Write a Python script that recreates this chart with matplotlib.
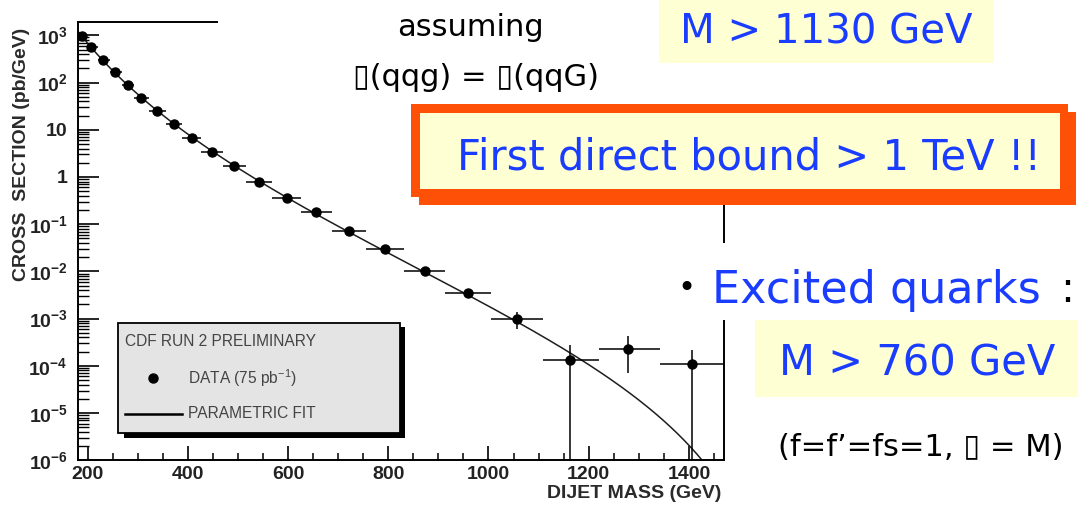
import numpy as np
import matplotlib
matplotlib.use("Agg")
import matplotlib.pyplot as plt
from matplotlib.patches import Rectangle
from matplotlib.lines import Line2D
from matplotlib.ticker import FixedLocator, FixedFormatter, MultipleLocator, LogLocator, NullFormatter

# ---------------------------------------------------------------- data
# dijet mass bins (GeV): centre and edges
mass = np.array([189, 207, 230, 254, 280, 306, 338, 372, 408, 449, 493,
                 543, 598, 656, 722, 793, 873, 960, 1057, 1162, 1279, 1407])
bin_lo = np.array([180, 198, 221, 244, 269, 293, 322, 356, 389, 427, 471,
                   517, 569, 626, 688, 756, 832, 914, 1006, 1109, 1220, 1342])
bin_hi = np.array([198, 221, 244, 269, 293, 322, 356, 389, 427, 471, 517,
                   569, 626, 688, 756, 832, 914, 1006, 1109, 1220, 1342, 1476])
# measured cross section (pb/GeV)
xsec = np.array([970, 577, 302, 166, 89.7, 46.1, 25.0, 13.3, 6.61, 3.41, 1.70,
                 0.796, 0.366, 0.177, 0.0711, 0.0301, 0.0101, 0.00351,
                 9.9e-4, 1.31e-4, 2.31e-4, 1.10e-4])
xsec_err_hi = np.array([12, 8, 5, 3, 1.8, 1.0, 0.6, 0.35, 0.2, 0.11, 0.06,
                        0.03, 0.016, 0.009, 0.004, 0.0022, 0.0009, 0.0004,
                        4.0e-4, 1.4e-4, 1.9e-4, 1.03e-4])
xsec_err_lo = np.array([12, 8, 5, 3, 1.8, 1.0, 0.6, 0.35, 0.2, 0.11, 0.06,
                        0.03, 0.016, 0.009, 0.004, 0.0022, 0.0009, 0.0004,
                        4.0e-4, 1.31e-4, 1.62e-4, 1.10e-4])
# points read along the tail of the parametric fit
tail_mass = np.array([1184, 1250, 1317, 1384, 1410])
tail_xsec = np.array([1.31e-4, 4.6e-5, 1.36e-5, 3.4e-6, 1.5e-6])

x_ticks = [200, 400, 600, 800, 1000, 1200, 1400]
y_ticks = [1e3, 1e2, 1e1, 1, 1e-1, 1e-2, 1e-3, 1e-4, 1e-5, 1e-6]
y_ticklabels = [r"$\mathbf{10^{3}}$", r"$\mathbf{10^{2}}$", "10", "1",
                r"$\mathbf{10^{-1}}$", r"$\mathbf{10^{-2}}$", r"$\mathbf{10^{-3}}$",
                r"$\mathbf{10^{-4}}$", r"$\mathbf{10^{-5}}$", r"$\mathbf{10^{-6}}$"]

# ---------------------------------------------------------------- style
plt.rcParams["font.family"] = ["Liberation Sans", "DejaVu Sans"]
plt.rcParams["mathtext.fontset"] = "custom"
plt.rcParams["mathtext.rm"] = "Liberation Sans"
plt.rcParams["mathtext.bf"] = "Liberation Sans:bold"
plt.rcParams["mathtext.it"] = "Liberation Sans:italic"

W, H = 1078, 508
fig = plt.figure(figsize=(W / 100, H / 100), dpi=100)
fig.patch.set_facecolor("white")

L, R, T, B = 77.5, 724.0, 22.5, 460.3
ax = fig.add_axes([L / W, (H - B) / H, (R - L) / W, (B - T) / H])
ax.set_yscale("log")
ax.set_xlim(180, 1470)
ax.set_ylim(1e-6, 1.87e3)


# parametric fit in x = m / m0:
# ln s = a + b ln(1-x) - c ln x - d ln^2 x, with the end-point scale m0 scanned
def design(m, m0):
    x = m / m0
    return np.column_stack([np.ones_like(x), np.log(1 - x), -np.log(x), -np.log(x) ** 2])


fit_m = np.concatenate([mass[:19], tail_mass])
fit_s = np.concatenate([xsec[:19], tail_xsec])
fit_w = np.concatenate([np.ones(19), np.full(len(tail_mass), 4.0)])
best = None
for m0 in np.arange(1420, 2400, 5.0):
    Aw = design(fit_m, m0) * fit_w[:, None]
    c, *_ = np.linalg.lstsq(Aw, np.log(fit_s) * fit_w, rcond=None)
    rss = np.sum((Aw @ c - np.log(fit_s) * fit_w) ** 2)
    if best is None or rss < best[0]:
        best = (rss, m0, c)
_, m0_fit, coef = best
mm = np.linspace(180, min(1465, m0_fit - 1), 500)
curve = np.exp(design(mm, m0_fit) @ coef)
ax.plot(mm, curve, color="#1e1e1e", lw=1.1, zorder=2)

# data with bin widths and errors
lower = xsec - xsec_err_lo
lower = np.where(lower > 0, lower, 1e-9)
ax.errorbar(mass, xsec, xerr=[mass - bin_lo, bin_hi - mass],
            yerr=[xsec - lower, xsec_err_hi], fmt="o", color="black",
            ms=6.5, elinewidth=1.1, capsize=0, zorder=3)

# axes frame and ticks
for sp in ax.spines.values():
    sp.set_linewidth(1.4)
ax.xaxis.set_major_locator(FixedLocator(x_ticks))
ax.xaxis.set_minor_locator(MultipleLocator(50))
ax.yaxis.set_major_locator(FixedLocator(y_ticks))
ax.yaxis.set_major_formatter(FixedFormatter(y_ticklabels))
ax.yaxis.set_minor_locator(LogLocator(base=10, subs=np.arange(2, 10), numticks=20))
ax.yaxis.set_minor_formatter(NullFormatter())
ax.tick_params(axis="x", which="major", direction="in", length=10, width=1.2,
               labelsize=14, pad=4, top=False)
ax.tick_params(axis="x", which="minor", direction="in", length=5, width=1.1, top=False)
ax.tick_params(axis="y", which="major", direction="in", length=15, width=1.2,
               labelsize=14, pad=7, right=False)
ax.tick_params(axis="y", which="minor", direction="in", length=8, width=1.0, right=False)
for lab in ax.get_xticklabels():
    lab.set_fontweight("bold")
    lab.set_color("#222222")
for lab in ax.get_yticklabels():
    lab.set_fontweight("bold")
    lab.set_color("#222222")

# ---------------------------------------------------------------- overlay in pixel units
ov = fig.add_axes([0, 0, 1, 1], zorder=10)
ov.set_xlim(0, W)
ov.set_ylim(H, 0)
ov.axis("off")
ov.patch.set_alpha(0)


def box(x0, y0, x1, y1, **kw):
    ov.add_patch(Rectangle((x0, y0), x1 - x0, y1 - y0, **kw))


# axis titles
ov.text(22, 154, "CROSS  SECTION (pb/GeV)", rotation=90, ha="center", va="center",
        fontsize=14, fontweight="bold", color="#2a2a2a")
ov.text(721, 494, "DIJET MASS (GeV)", ha="right", va="center",
        fontsize=14, fontweight="bold", color="#2a2a2a")

# legend panel
box(124, 327, 405, 437.5, facecolor="black", edgecolor="none")
box(118, 323, 400, 433, facecolor="#e4e4e4", edgecolor="black", lw=1.3)
ov.text(125, 342, "CDF RUN 2 PRELIMINARY", ha="left", va="center",
        fontsize=11.2, color="#444444")
ov.add_line(Line2D([153], [378], marker="o", ms=6.5, color="black"))
ov.text(188, 378, "DATA (75 pb$^{-1}$)", ha="left", va="center",
        fontsize=11.2, color="#444444")
ov.add_line(Line2D([125, 182], [414, 414], lw=1.8, color="black"))
ov.text(188, 414, "PARAMETRIC FIT", ha="left", va="center",
        fontsize=11.2, color="#444444")

# slide annotations
BLUE = "#193cff"
YELLOW = "#ffffd4"
ORANGE = "#ff5008"
SLIDE = "DejaVu Sans"

box(218, 0, W, 106, facecolor="white", edgecolor="none")
box(670, 243, W, 320, facecolor="white", edgecolor="none")

ov.text(470, 28, "assuming", ha="center", va="center", fontsize=22,
        family=SLIDE, color="black")
ov.text(476, 78, "\u25af(qqg) = \u25af(qqG)", ha="center", va="center",
        fontsize=22, family=SLIDE, color="black")

box(659, 0, 994, 63, facecolor=YELLOW, edgecolor="none")
ov.text(826, 32, "M > 1130 GeV", ha="center", va="center", fontsize=29,
        family=SLIDE, color=BLUE)

box(419, 112, 1076, 205, facecolor=ORANGE, edgecolor="none")
box(411, 104, 1068, 197, facecolor=ORANGE, edgecolor="none")
box(419.5, 112.5, 1060, 189, facecolor=YELLOW, edgecolor="none")
ov.text(749, 157, "First direct bound > 1 TeV !!", ha="center", va="center",
        fontsize=30, family=SLIDE, color=BLUE)

ov.text(686, 289, "\u2022", ha="center", va="center", fontsize=22,
        family=SLIDE, color="black")
ov.text(712, 290, "Excited quarks", ha="left", va="center", fontsize=32,
        family=SLIDE, color=BLUE)
ov.text(1067, 290, ":", ha="center", va="center", fontsize=30,
        family=SLIDE, color="black")

box(755, 320, W, 397, facecolor=YELLOW, edgecolor="none")
ov.text(917, 364, "M > 760 GeV", ha="center", va="center", fontsize=30,
        family=SLIDE, color=BLUE)

ov.text(921, 447, "(f=f\u2019=fs=1, \u25af = M)", ha="center", va="center",
        fontsize=22, family=SLIDE, color="black")

fig.savefig("out.png", dpi=100, facecolor="white")
